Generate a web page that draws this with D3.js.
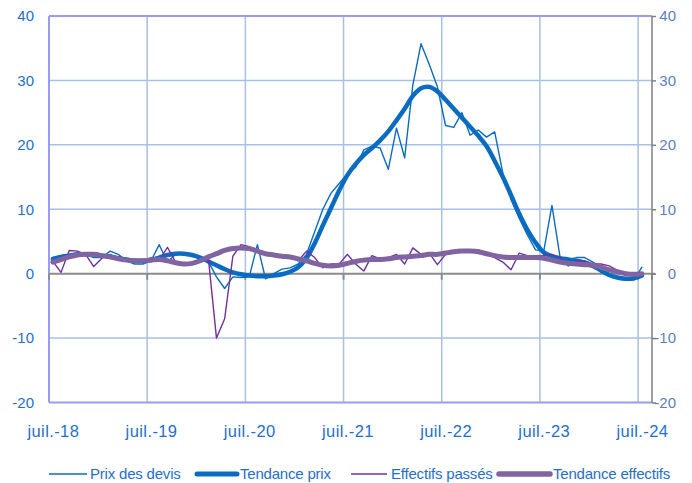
<!DOCTYPE html>
<html>
<head>
<meta charset="utf-8">
<script src="https://cdn.jsdelivr.net/npm/d3@7"></script>
<style>
  html, body { margin: 0; padding: 0; background: #fff; }
  svg { display: block; font-family: "Liberation Sans", Arial, sans-serif; }
</style>
</head>
<body>
<svg id="chart" width="692" height="483"></svg>
<script>
// Monthly data, July 2018 (index 0) to July 2024 (index 72)
const startLabel = "juil.-18";
const prixDevis = [
  2.5, 2.8, 3.0, 3.0, 3.0, 2.5, 2.5, 3.5, 3.0, 2.0, 1.5, 1.5,
  2.0, 4.5, 1.8, 3.0, 3.0, 3.0, 2.5, 1.9, -0.5, -2.3, -0.5, -0.6,
  -0.5, 4.5, -0.8, 0.0, 0.7, 0.9, 1.5, 3.0, 6.5, 10.0, 12.5, 14.0,
  15.5, 16.5, 19.2, 19.8, 19.5, 16.2, 22.6, 18.0, 29.3, 35.7, 32.5, 29.0,
  23.0, 22.7, 25.0, 21.5, 22.3, 21.2, 22.0, 15.6, 11.5, 8.6, 6.0, 3.7,
  3.5, 10.6, 2.5, 2.2, 2.5, 2.5, 1.8, 1.0, 0.0, -0.6, -0.8, -1.0,
  1.0
];
const tendancePrix = [
  2.3, 2.6, 2.8, 3.0, 3.0, 3.0, 2.8, 2.6, 2.4, 2.2, 2.0, 2.0,
  2.1, 2.5, 2.9, 3.1, 3.1, 2.9, 2.5, 1.9, 1.3, 0.7, 0.2, -0.1,
  -0.3, -0.4, -0.4, -0.3, -0.1, 0.3, 1.0, 2.4, 4.7, 7.5, 10.2, 12.9,
  15.3, 17.0, 18.4, 19.5, 20.7, 22.1, 23.8, 25.6, 27.6, 28.8, 29.0, 28.3,
  27.0, 25.6, 24.2, 22.8, 21.4, 19.8, 17.5, 15.0, 12.2, 9.3, 6.8, 4.8,
  3.3, 2.7, 2.4, 2.2, 2.0, 1.7, 1.2, 0.5, -0.2, -0.6, -0.8, -0.7,
  -0.3
];
const effectifsPasses = [
  1.9, 0.2, 3.6, 3.5, 3.0, 1.1, 2.4, 3.0, 2.5, 2.0, 2.0, 2.0,
  2.5, 2.0, 4.1, 1.8, 1.5, 1.5, 2.0, 2.5, -10.0, -7.0, 2.7, 4.5,
  4.2, 3.5, 3.0, 2.8, 2.5, 2.5, 2.0, 3.5, 2.5, 0.9, 1.5, 1.5,
  3.0, 1.5, 0.4, 2.8, 2.3, 2.5, 3.0, 1.5, 4.0, 3.0, 3.2, 1.4,
  3.0, 3.2, 3.5, 3.7, 3.7, 3.2, 2.5, 1.8, 0.6, 3.2, 2.8, 2.8,
  2.8, 3.0, 2.5, 1.2, 2.0, 2.0, 1.5, 1.5, 1.2, 0.5, 0.0, -0.3,
  0.0
];
const tendanceEffectifs = [
  1.8, 2.2, 2.6, 2.9, 3.0, 3.0, 2.8, 2.6, 2.3, 2.1, 2.0, 2.0,
  2.1, 2.2, 2.0, 1.7, 1.5, 1.6, 2.0, 2.6, 3.1, 3.6, 3.9, 4.0,
  3.9, 3.5, 3.1, 2.9, 2.7, 2.6, 2.3, 2.0, 1.6, 1.3, 1.2, 1.3,
  1.6, 1.9, 2.1, 2.2, 2.2, 2.3, 2.5, 2.6, 2.7, 2.8, 3.0, 3.0,
  3.2, 3.4, 3.5, 3.5, 3.4, 3.1, 2.8, 2.6, 2.5, 2.5, 2.5, 2.5,
  2.4, 2.1, 1.8, 1.6, 1.5, 1.4, 1.3, 1.0, 0.6, 0.3, 0.0, -0.1,
  0.0
];
const xTickLabels = ["juil.-18", "juil.-19", "juil.-20", "juil.-21", "juil.-22", "juil.-23", "juil.-24"];
const xTickMonths = [0, 12, 24, 36, 48, 60, 72];
const yTicks = [-20, -10, 0, 10, 20, 30, 40];
const seriesNames = ["Prix des devis", "Tendance prix", "Effectifs passés", "Tendance effectifs"];

const svg = d3.select("#chart");
const L = 49, R = 652, T = 16, B = 402.5;
const x = d3.scaleLinear().domain([0, 73.7]).range([L, R]);
const y = d3.scaleLinear().domain([-20, 40]).range([B, T]);
const off = 0.47; // points sit mid-month

const gridColor = "#A8C0E4";
const frameColor = "#9B9BF5";

// horizontal gridlines
svg.append("g").selectAll("line").data(yTicks.filter(v => v !== 0 && v !== 40 && v !== -20)).join("line")
  .attr("x1", L).attr("x2", R).attr("y1", d => y(d)).attr("y2", d => y(d))
  .attr("stroke", gridColor).attr("stroke-width", 1.5);
// vertical gridlines
svg.append("g").selectAll("line").data(xTickMonths.slice(1)).join("line")
  .attr("x1", d => x(d)).attr("x2", d => x(d)).attr("y1", T).attr("y2", B)
  .attr("stroke", gridColor).attr("stroke-width", 1.5);

// frame (left, top, bottom)
svg.append("line").attr("x1", L).attr("x2", L).attr("y1", T).attr("y2", B).attr("stroke", frameColor).attr("stroke-width", 2);
svg.append("line").attr("x1", L).attr("x2", R).attr("y1", T).attr("y2", T).attr("stroke", frameColor).attr("stroke-width", 2);
svg.append("line").attr("x1", L).attr("x2", R).attr("y1", B).attr("y2", B).attr("stroke", frameColor).attr("stroke-width", 2);

// zero line with ticks
svg.append("line").attr("x1", L).attr("x2", R + 3).attr("y1", y(0)).attr("y2", y(0))
  .attr("stroke", "#8C8C8C").attr("stroke-width", 2);
svg.append("g").selectAll("line").data(xTickMonths.concat([73.7])).join("line")
  .attr("x1", d => x(d)).attr("x2", d => x(d)).attr("y1", y(0)).attr("y2", y(0) + 6)
  .attr("stroke", "#8C8C8C").attr("stroke-width", 2);

// right axis
const rightAxis = d3.axisRight(y).tickValues(yTicks).tickSize(4).tickFormat(d3.format("d"));
const ra = svg.append("g").attr("transform", `translate(${R},0)`).call(rightAxis);
ra.select(".domain").attr("stroke", "#7F7F7F").attr("stroke-width", 1.5).attr("d", `M0,${T}V${B}`);
ra.selectAll(".tick line").attr("stroke", "#7F7F7F").attr("stroke-width", 1.5);
ra.selectAll(".tick text").attr("x", 24).attr("text-anchor", "end")
  .attr("fill", "#5E7EC0").style("font-size", "15px").style("font-family", "'Liberation Sans', Arial, sans-serif")
  .text(d => d < 0 ? "-" + Math.abs(d) : d);

// left axis
const leftAxis = d3.axisLeft(y).tickValues(yTicks).tickSize(0).tickFormat(d3.format("d"));
const la = svg.append("g").attr("transform", `translate(${L},0)`).call(leftAxis);
la.select(".domain").remove();
la.selectAll(".tick text").attr("x", -15).attr("text-anchor", "end")
  .attr("fill", "#1F6FCF").style("font-size", "15px").style("font-family", "'Liberation Sans', Arial, sans-serif")
  .text(d => d < 0 ? "-" + Math.abs(d) : d);

// bottom labels
const bottomAxis = d3.axisBottom(x).tickValues(xTickMonths.map(m => m + off)).tickSize(0)
  .tickFormat((d, i) => xTickLabels[i]);
const ba = svg.append("g").attr("transform", `translate(0,${B})`).call(bottomAxis);
ba.select(".domain").remove();
ba.selectAll(".tick text").attr("y", 23).attr("dy", "0.71em")
  .attr("fill", "#1F6FCF").style("font-size", "16.5px").style("letter-spacing", "0.4px")
  .style("font-family", "'Liberation Sans', Arial, sans-serif");

// lines
const lineLin = d3.line().x((d, i) => x(i + off)).y(d => y(d));
const lineSmooth = d3.line().x((d, i) => x(i + off)).y(d => y(d)).curve(d3.curveCatmullRom.alpha(0.5));
const series = [
  { data: prixDevis, color: "#0A6CC4", width: 1.4, gen: lineLin },
  { data: tendancePrix, color: "#0A6CC0", width: 4.5, gen: lineSmooth },
  { data: effectifsPasses, color: "#7030A0", width: 1.4, gen: lineLin },
  { data: tendanceEffectifs, color: "#8064A2", width: 5, gen: lineSmooth }
];
series.forEach(s => {
  svg.append("path").attr("d", s.gen(s.data)).attr("fill", "none")
    .attr("stroke", s.color).attr("stroke-width", s.width)
    .attr("stroke-linejoin", "round").attr("stroke-linecap", "round");
});

// legend
const legendY = 474;
const legendItems = [
  { name: seriesNames[0], x1: 49, x2: 87, tx: 90, color: "#0A6CC4", width: 1.4 },
  { name: seriesNames[1], x1: 197, x2: 237, tx: 240, color: "#0A6CC0", width: 5 },
  { name: seriesNames[2], x1: 351, x2: 387, tx: 391, color: "#7030A0", width: 1.4 },
  { name: seriesNames[3], x1: 499, x2: 550, tx: 553, color: "#8064A2", width: 5.5 }
];
const lg = svg.append("g");
legendItems.forEach(it => {
  lg.append("line").attr("x1", it.x1).attr("x2", it.x2).attr("y1", legendY).attr("y2", legendY)
    .attr("stroke", it.color).attr("stroke-width", it.width).attr("stroke-linecap", it.width > 3 ? "round" : "butt");
  lg.append("text").attr("x", it.tx).attr("y", legendY).attr("dy", "0.35em")
    .attr("fill", "#1F6FCF").style("font-size", "15px").style("letter-spacing", "-0.2px")
    .text(it.name);
});
</script>
</body>
</html>
